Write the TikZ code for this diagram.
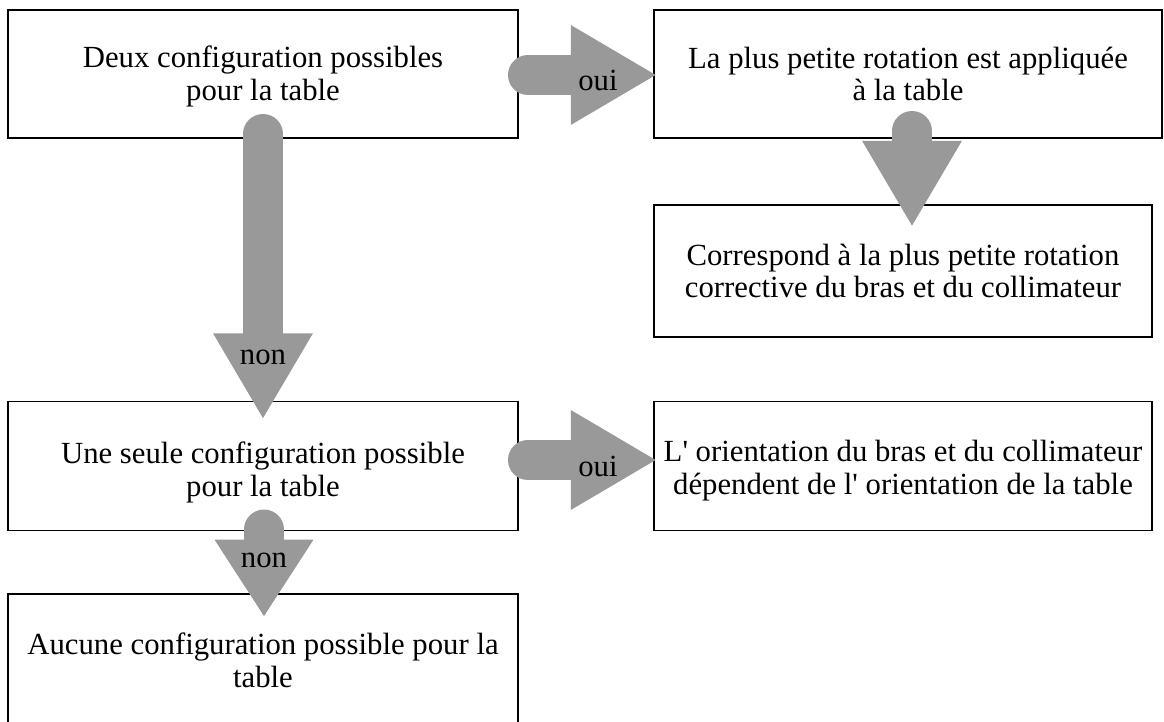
\documentclass[tikz,border=0pt]{standalone}
\usepackage{fontspec}
\setmainfont{Liberation Serif}
\usetikzlibrary{arrows.meta,calc}
\definecolor{arrowgrey}{RGB}{153,153,153}

\begin{document}
\begin{tikzpicture}[x=0.02cm, y=-0.02cm,
    box/.style={draw, line width=1.1pt, align=center, inner sep=0pt,
      font=\fontsize{17.5}{18.7}\selectfont},
    bigarrow/.style={arrowgrey, line width=22.7pt,
      -{Triangle[length=49pt, width=53pt]}},
    lbl/.style={font=\fontsize{17.5}{18.7}\selectfont, inner sep=0pt}]
    \useasboundingbox (0,0) rectangle (1164,722);
    % Boxes
    \node[box, minimum width=10.2cm, minimum height=2.56cm, text height=34pt] (deux) at (263,74)
      {Deux configuration possibles\\pour la table};
    \node[box, minimum width=10.16cm, minimum height=2.56cm] (plus) at (908,74)
      {La plus petite rotation est appliquée\\à la table};
    \node[box, minimum width=9.96cm, minimum height=2.64cm] (corresp) at (903,271)
      {Correspond à la plus petite rotation\\corrective du bras et du collimateur};
    \node[box, minimum width=10.2cm, minimum height=2.58cm, text height=38pt] (une) at (263,466)
      {Une seule configuration possible\\pour la table};
    \node[box, minimum width=9.96cm, minimum height=2.58cm, text height=36pt] (orient) at (903,466)
      {L\textquotesingle\ orientation du bras et du collimateur\\dépendent de l\textquotesingle\ orientation de la table};
    \node[box, minimum width=10.2cm, minimum height=2.64cm] (aucune) at (263,660)
      {Aucune configuration possible pour la\\table};
    % Block arrows
    \draw[bigarrow, line cap=round] ($(deux.east)+(9,1)$) -- ($(plus.west)+(4,1)$);
    \draw[bigarrow, line cap=round] ($(deux.south)+(0,-5)$) -- ($(une.north)+(0,19)$);
    \draw[bigarrow, line cap=round] ($(plus.south)+(4,-8)$) -- ($(corresp.north)+(9,23)$);
    \draw[bigarrow, line cap=round] ($(une.east)+(9,-6)$) -- ($(orient.west)+(4,-6)$);
    \draw[bigarrow, line cap=round, -{Triangle[length=44pt, width=53pt]}]
      ($(une.south)+(1,-2)$) -- ($(aucune.north)+(1,24)$);
    % Labels
    \node[lbl] (oui1) at (598,80) {oui};
    \node[lbl] (non1) at (263,357) {non};
    \node[lbl] (oui2) at (598,466) {oui};
    \node[lbl] (non2) at (264,560) {non};
\end{tikzpicture}
\end{document}
